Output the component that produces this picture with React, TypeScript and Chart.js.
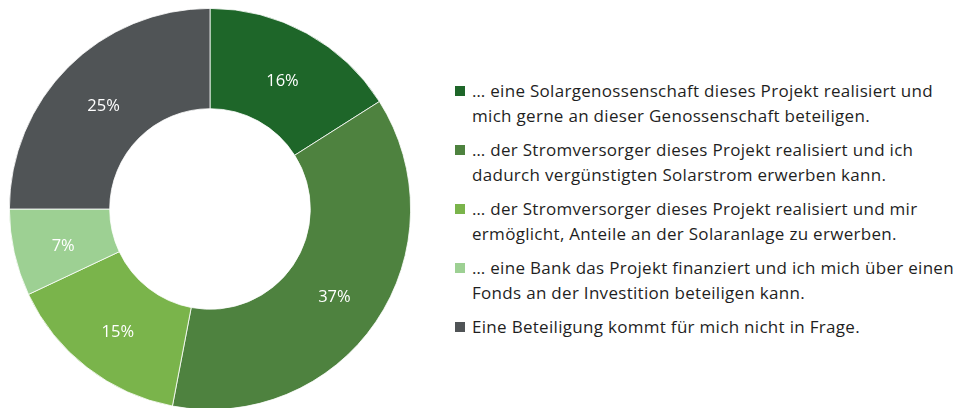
import React, { useEffect, useRef } from "react";
import { Chart, registerables } from "chart.js";

Chart.register(...registerables);

const categories: string[][] = [
  ["… eine Solargenossenschaft dieses Projekt realisiert und", "mich gerne an dieser Genossenschaft beteiligen."],
  ["… der Stromversorger dieses Projekt realisiert und ich", "dadurch vergünstigten Solarstrom erwerben kann."],
  ["… der Stromversorger dieses Projekt realisiert und mir", "ermöglicht, Anteile an der Solaranlage zu erwerben."],
  ["… eine Bank das Projekt finanziert und ich mich über einen", "Fonds an der Investition beteiligen kann."],
  ["Eine Beteiligung kommt für mich nicht in Frage."],
];
const values: number[] = [16, 37, 15, 7, 25];
const colors: string[] = ["#1e6629", "#4e823f", "#7ab44b", "#9dd093", "#505456"];

const FONT = "'Open Sans', 'Noto Sans', sans-serif";

const labelPlugin = {
  id: "sliceLabels",
  afterDatasetsDraw(chart: any) {
    const ctx = chart.ctx;
    const meta = chart.getDatasetMeta(0);
    ctx.save();
    ctx.fillStyle = "#ffffff";
    ctx.font = `16.5px ${FONT}`;
    ctx.textAlign = "center";
    ctx.textBaseline = "middle";
    meta.data.forEach((arc: any, i: number) => {
      const p = arc.tooltipPosition();
      ctx.fillText(`${values[i]}%`, p.x, p.y + 4);
    });
    ctx.restore();
  },
};

export default function App() {
  const ref = useRef<HTMLCanvasElement | null>(null);
  useEffect(() => {
    if (!ref.current) return;
    const chart = new Chart(ref.current, {
      type: "doughnut",
      data: {
        labels: categories.map((c) => c.join(" ")),
        datasets: [
          {
            data: values,
            backgroundColor: colors,
            borderColor: "#ffffff",
            borderWidth: 0.8,
            hoverOffset: 0,
          },
        ],
      },
      options: {
        animation: false,
        responsive: true,
        maintainAspectRatio: false,
        cutout: "50%",
        events: [],
        layout: { padding: 0 },
        plugins: {
          legend: { display: false },
          tooltip: { enabled: false },
        },
      },
      plugins: [labelPlugin],
    });
    return () => chart.destroy();
  }, []);

  return (
    <div style={{ position: "relative", height: 400, overflow: "hidden", fontFamily: FONT }}>
      <div style={{ position: "absolute", left: 0, top: 0, width: 404, height: 402 }}>
        <canvas ref={ref} />
      </div>
      <div
        style={{
          position: "absolute",
          left: 447,
          top: 70,
          fontSize: 17,
          letterSpacing: "0.3px",
          lineHeight: "25px",
          color: "#1f1f1f",
        }}
      >
        {categories.map((lines, i) => (
          <div key={i} style={{ position: "relative", paddingLeft: 17, marginBottom: 9, whiteSpace: "nowrap" }}>
            <span
              style={{
                position: "absolute",
                left: 0,
                top: 8,
                width: 10,
                height: 10,
                background: colors[i],
              }}
            />
            {lines.map((l, j) => (
              <div key={j}>{l}</div>
            ))}
          </div>
        ))}
      </div>
    </div>
  );
}
